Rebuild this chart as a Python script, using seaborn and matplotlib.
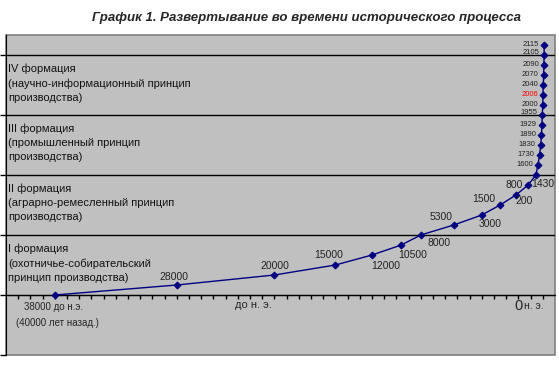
import numpy as np
import pandas as pd
import matplotlib
matplotlib.use("Agg")
import matplotlib.pyplot as plt
import seaborn as sns
from matplotlib.patches import Rectangle

# data
years = [-38000, -28000, -20000, -15000, -12000, -9600, -8000, -5300, -3000,
         -1500, -200, 800, 1430, 1600, 1730, 1830, 1890, 1929, 1955, 2000,
         2006, 2040, 2070, 2090, 2105, 2115]
stage = list(range(len(years)))
point_labels = ['38000', '28000', '20000', '15000', '12000', '10500', '8000',
                '5300', '3000', '1500', '200', '800', '1430', '1600', '1730',
                '1830', '1890', '1929', '1955', '2000', '2006', '2040', '2070',
                '2090', '2105', '2115']
formations = [
    "I формация\n(охотничье-собирательский\nпринцип производства)",
    "II формация\n(аграрно-ремесленный принцип\nпроизводства)",
    "III формация\n(промышленный принцип\nпроизводства)",
    "IV формация\n(научно-информационный принцип\nпроизводства)",
]
formation_levels = [0, 6, 12, 18]
level_ticks = [-6, 0, 6, 12, 18, 24]

# label offsets in pixels (dx, dy up) relative to each point, as in the picture
offsets = [None, (-3, 8), (0, 9), (-7, 10), (14, -11), (11, -10), (18, -8),
           (-13, 8), (8, -9), (-16, 6), (8, -6), (-14, 0), (7, -9)]

sns.set_style("white")
plt.rcParams['font.family'] = ['Liberation Sans', 'DejaVu Sans']

df = pd.DataFrame({'year': years, 'stage': stage})

fig = plt.figure(figsize=(5.59, 3.83), dpi=100)
ax = fig.add_axes([6 / 559, 1 - 355 / 383, 549 / 559, 320 / 383])
ax.set_facecolor('#c0c0c0')

ax.set_xlim(-42000, 3000)
ax.set_ylim(-6, 26)

# horizontal gridlines at formation borders
for lv in level_ticks[1:]:
    ax.axhline(lv, color='black', lw=1, zorder=1)

sns.lineplot(data=df, x='year', y='stage', ax=ax, color='#000080',
             marker='D', markersize=3.5, markeredgecolor='#000080',
             linewidth=1, estimator=None, sort=False, zorder=3)

# point labels
for i, (x, y, lab) in enumerate(zip(years, stage, point_labels)):
    if i == 0:
        continue
    if i < len(offsets):
        dx, dy = offsets[i]
        ax.annotate(lab, (x, y), xytext=(dx, dy), textcoords='offset pixels',
                    ha='center', va='center', fontsize=7.5, color='#222222')
    else:
        col = 'red' if lab == '2006' else '#222222'
        dy = 3 if lab in ('1955', '2105') else 0
        ax.annotate(lab, (x, y), xytext=(-5, dy), textcoords='offset pixels',
                    ha='right', va='center', fontsize=5.5, color=col)

# formation captions
for txt, lv in zip(formations, formation_levels):
    ax.text(-41830, lv + 5.1, txt, ha='left', va='top', fontsize=8,
            linespacing=1.5, color='#111111')

# axes styling
for s in ['top', 'right']:
    ax.spines[s].set_visible(False)
ax.spines['left'].set_color('black')
ax.spines['bottom'].set_position(('data', 0))
ax.spines['bottom'].set_color('black')
ax.add_patch(Rectangle((0, 0), 1, 1, transform=ax.transAxes, fill=False,
                       edgecolor='#808080', lw=1.2, zorder=0.5, clip_on=False))

ax.set_xticks(np.arange(-41000, 3000, 1000))
ax.set_xticklabels([])
ax.tick_params(axis='x', bottom=True, direction='out', length=3, width=1,
               color='black')
ax.set_yticks(level_ticks)
ax.set_yticklabels([])
ax.tick_params(axis='y', left=True, direction='out', length=4, width=1,
               color='black')
ax.set_xlabel('')
ax.set_ylabel('')

# axis annotations
ax.text(-38100, -1.2, "38000 до н.э.", ha='center', va='center', fontsize=7)
ax.text(-37800, -2.8, "(40000 лет назад.)", ha='center', va='center', fontsize=7)
ax.text(-21700, -1.0, "до н. э.", ha='center', va='center', fontsize=8)
ax.text(0, -1.1, "0", ha='center', va='center', fontsize=10.5)
ax.text(500, -1.1, "н. э.", ha='left', va='center', fontsize=7.5)

fig.text(306 / 559, 1 - 18 / 383,
         "График 1. Развертывание во времени исторического процесса",
         ha='center', va='center', fontsize=9.5, fontweight='bold', style='italic')

fig.savefig('out.png', dpi=100)
